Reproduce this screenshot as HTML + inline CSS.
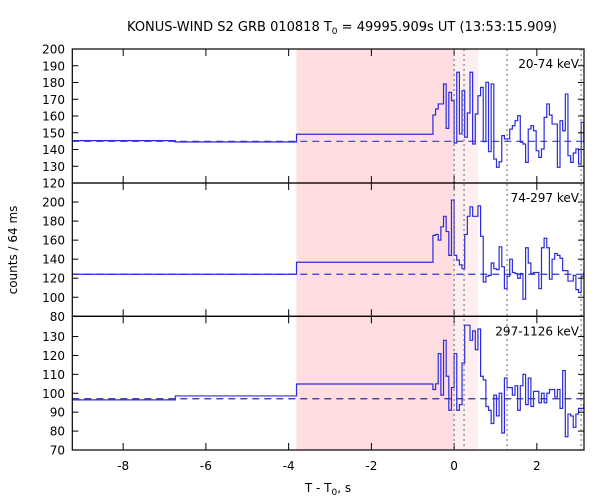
<!DOCTYPE html>
<html><head><meta charset="utf-8"><style>
body{margin:0;background:#fff;}
svg{display:block;font-family:"DejaVu Sans","Liberation Sans",sans-serif;}
</style></head><body>
<svg id="c" width="600" height="500" viewBox="0 0 600 500">
<text x="342" y="31" font-size="13" text-anchor="middle">KONUS-WIND S2 GRB 010818 T<tspan font-size="9" dy="3">0</tspan><tspan dy="-3"> = 49995.909s UT (13:53:15.909)</tspan></text>
<text x="0" y="0" font-size="12" text-anchor="middle" transform="translate(17,250) rotate(-90)">counts / 64 ms</text>
<text x="328" y="492" font-size="12" text-anchor="middle">T - T<tspan font-size="9" dy="3">0</tspan><tspan dy="-3">, s</tspan></text>
<g id="g"></g>
</svg>
<script>
const xTicks=[-8,-6,-4,-2,0,2];
const shadeIntervals=[[-3.81,0],[0,0.58]];
const dottedTimes=[0,0.24,1.28,3.07];
const panelLabels=["20-74 keV","74-297 keV","297-1126 keV"];
const preEdges=[-9.23,-6.74,-3.81,-0.512];
const fineStart=-0.512, binWidth=0.064;
const pre1=[145.3,144.5,149.1];
const pre2=[124.2,124.2,136.8];
const pre3=[96.5,98.6,104.9];
const bg=[144.9,124.2,97.1];
const fine1=[160.6,164.2,167.2,167.2,179.1,152.6,174.1,169.2,143.9,186.1,149.3,175.1,147.3,161.8,186.1,143.3,161.2,172.1,177.1,144.7,180.1,138.7,179.1,134.3,129.4,132.7,148.3,146.3,146.3,152.2,154.2,157.2,160.2,144.3,143.3,132.3,152.2,154.2,151.2,139.3,135.3,140.3,159.2,167.2,160.6,155.2,155.2,129.4,157.2,151.2,173.1,136.3,132.3,137.9,140.3,131.3,156.2,144.3];
const fine2=[165,166,160,174,185,169,144,202,144,139,134,130,166,185,195,185,185,196,164,116,122,123,136,130,129,153,132,109,122,140,126,125,120,125,98,152,136,125,126,126,109,152,162,152,119,140,146,144,141,128,128,117,117,123,108,105,122,126];
const fine3=[102,105,121,99,128,109,91,103,121,91,94,116,136,136,128,133,123,134,109,107,93,91,84,99,88,100,79,108,103,103,99,104,91,104,110,94,108,93,101,101,95,100,95,100,102,102,98,102,92,112,77,89,88,82,89,92,92,94];
const yTicks1=[120,130,140,150,160,170,180,190,200];
const yTicks2=[80,100,120,140,160,180,200];
const yTicks3=[70,80,90,100,110,120,130];

const L=72.3,R=584,T0=-9.23,T1=3.14;
const X=t=>L+(t-T0)*(R-L)/(T1-T0);
const panels=[
 {top:49,bot:183,vmin:120,vmax:200,pre:pre1,fine:fine1,ticks:yTicks1,name:"panel-20-74kev"},
 {top:183,bot:316.3,vmin:80,vmax:220,pre:pre2,fine:fine2,ticks:yTicks2,name:"panel-74-297kev"},
 {top:316.3,bot:450,vmin:70,vmax:140.7,pre:pre3,fine:fine3,ticks:yTicks3,name:"panel-297-1126kev"}];
const NS="http://www.w3.org/2000/svg";
const g=document.getElementById('g');
function mk(tag,attrs,parent){const e=document.createElementNS(NS,tag);for(const k in attrs)e.setAttribute(k,attrs[k]);(parent||g).appendChild(e);return e;}
shadeIntervals.forEach((s,i)=>{
 const r=mk('rect',{x:X(s[0]),y:49,width:X(s[1])-X(s[0]),height:401,fill:i==0?'#ffdde0':'#ffeef0'});
 
 
});
const defs=mk('defs',{});
panels.forEach((p,pi)=>{
 const Y=v=>p.bot-(v-p.vmin)*(p.bot-p.top)/(p.vmax-p.vmin);
 const cp=mk('clipPath',{id:'cp'+pi},defs);
 mk('rect',{x:L,y:p.top,width:R-L,height:p.bot-p.top},cp);
 const pg=mk('g',{'clip-path':'url(#cp'+pi+')'});
 
 
 const bl=mk('line',{x1:L,x2:R,y1:Y(bg[pi]),y2:Y(bg[pi]),stroke:pi==2?'#2a2a99':'#3333dd','stroke-width':1.2,'stroke-dasharray':'7,5'},pg);
 
 
 let d='';
 for(let i=0;i<p.pre.length;i++){
  const y=Y(p.pre[i]);
  d+=(i==0?'M':'L')+X(preEdges[i])+','+y+'L'+X(preEdges[i+1])+','+y;
 }
 p.fine.forEach((v,i)=>{const y=Y(v);d+='L'+X(fineStart+i*binWidth)+','+y+'L'+X(fineStart+(i+1)*binWidth)+','+y;});
 const path=mk('path',{d:d,fill:'none',stroke:'#2b2bdd','stroke-width':1.2},pg);
 
 
 p.ticks.forEach(v=>{
  const y=Y(v);
  mk('line',{x1:L,x2:L+6,y1:y,y2:y,stroke:'#000'});
  mk('line',{x1:R-6,x2:R,y1:y,y2:y,stroke:'#000'});
  const t=mk('text',{x:65,y:y+4.5,'font-size':12,'text-anchor':'end'});
  t.textContent=v;
  
  
 });
 xTicks.forEach(v=>{
  mk('line',{x1:X(v),x2:X(v),y1:p.bot-7,y2:p.bot,stroke:'#000'});
  mk('line',{x1:X(v),x2:X(v),y1:p.top,y2:p.top+7,stroke:'#000'});
 });
 const lb=mk('text',{x:579,y:p.top+19,'font-size':12,'text-anchor':'end'});
 lb.textContent=panelLabels[pi];
 
 
});
dottedTimes.forEach(t=>{
 const l=mk('line',{x1:X(t),x2:X(t),y1:49,y2:450,stroke:'#666','stroke-width':1,'stroke-dasharray':'2,3'});
 
 
});
panels.forEach(p=>{
 const f=mk('rect',{x:L,y:p.top,width:R-L,height:p.bot-p.top,fill:'none',stroke:'#000','stroke-width':1.2});
 
 
});
xTicks.forEach(v=>{
 const t=mk('text',{x:X(v),y:470,'font-size':12,'text-anchor':'middle'});
 t.textContent=v;
 
 
});
</script>
</body></html>
